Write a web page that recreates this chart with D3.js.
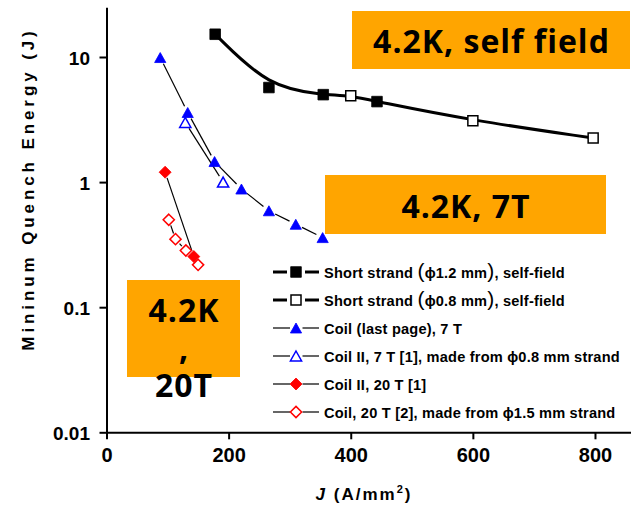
<!DOCTYPE html>
<html>
<head>
<meta charset="utf-8">
<script src="https://cdn.jsdelivr.net/npm/d3@7"></script>
<style>
  html, body { margin: 0; padding: 0; background: #fff; }
  svg { display: block; }
  text { font-family: "Liberation Sans", Arial, sans-serif; font-weight: bold; fill: #000; }
  .box-label { font-family: "Open Sans", "Noto Sans", sans-serif; font-weight: 700; }
</style>
</head>
<body>
<svg id="chart" width="631" height="505"></svg>
<script>
// Minimum quench energy against current density J, log scale

// Short strand, 1.2 mm diameter, self field
const strand12J = [178, 266, 355, 443];
const strand12E = [15.2, 5.7, 5.0, 4.4];
// Short strand, 0.8 mm diameter, self field
const strand08J = [400, 600, 797];
const strand08E = [4.9, 3.1, 2.25];
// Coil (last page), 7 T
const coil7J = [88, 133, 177, 221, 266, 310, 354];
const coil7E = [9.9, 3.6, 1.46, 0.88, 0.59, 0.46, 0.36];
// Coil II, 7 T
const coilII7J = [129, 191];
const coilII7E = [3.0, 1.0];
// Coil II, 20 T
const coilII20J = [96, 143];
const coilII20E = [1.2, 0.254];
// Coil, 20 T
const coil20J = [102, 113, 130, 150];
const coil20E = [0.5, 0.35, 0.284, 0.218];

const xMajorTicks = [0, 200, 400, 600, 800];
const xMinorTicks = [100, 300, 500, 700];
const yMajorTicks = [0.01, 0.1, 1, 10];
const yTickLabels = ["0.01", "0.1", "1", "10"];

const legendNames = [
  ["Short strand ", "(", "ϕ1.2 mm", ")", ", self-field"],
  ["Short strand ", "(", "ϕ0.8 mm", ")", ",  self-field"],
  ["Coil (last page), 7 T"],
  ["Coil II, 7 T [1], made from ϕ0.8 mm strand"],
  ["Coil II, 20 T [1]"],
  ["Coil, 20 T [2], made from ϕ1.5 mm strand"]
];
const boxLabels = [["4.2K, self field"], ["4.2K, 7T"], ["4.2K", ",", "20T"]];

const svg = d3.select("#chart");
const ORANGE = "#FFA500";

const x = d3.scaleLinear().domain([0, 870]).range([106.5, 106.5 + 870 * 0.6106]);
const y = d3.scaleLog().domain([0.01, 25]).range([432.3, 432.3 - Math.log10(2500) * 125.1]);

// minor log ticks 2..9 in each decade, plus 20
const yMinorTicks = [];
[0.01, 0.1, 1].forEach(d => { for (let k = 2; k <= 9; k++) yMinorTicks.push(+(d * k).toPrecision(3)); });
yMinorTicks.push(20);

const toPts = (J, E) => J.map((j, i) => [x(j), y(E[i])]);

// ---------- axes ----------
const yAxisG = svg.append("g").attr("transform", `translate(${x(0)},0)`);
yAxisG.call(d3.axisLeft(y).tickValues(yMinorTicks).tickSize(4).tickSizeOuter(0).tickFormat(""));
yAxisG.call(d3.axisLeft(y).tickValues(yMajorTicks).tickSize(7).tickSizeOuter(0).tickPadding(9.5)
  .tickFormat((d, i) => yTickLabels[i]));

const xAxisG = svg.append("g").attr("transform", `translate(0,${y(0.01)})`);
xAxisG.call(d3.axisBottom(x).tickValues(xMinorTicks).tickSize(4).tickSizeOuter(0).tickFormat(""));
xAxisG.call(d3.axisBottom(x).tickValues(xMajorTicks).tickSize(7).tickSizeOuter(0));

[yAxisG, xAxisG].forEach(g => {
  g.attr("font-family", null).attr("font-size", null);
  g.selectAll("path.domain").attr("stroke", "#000").attr("stroke-width", 2);
  g.selectAll(".tick line").attr("stroke", "#000").attr("stroke-width", 2);
});
yAxisG.selectAll(".tick text").style("font-size", "19px").attr("dy", "0.37em");
xAxisG.selectAll(".tick text").style("font-size", "20px").attr("y", 30).attr("dy", 0);

svg.append("text")
  .attr("transform", `translate(34,${189}) rotate(-90)`)
  .attr("text-anchor", "middle")
  .style("font-size", "17px").style("letter-spacing", "3.9px")
  .text("Mininum Quench Energy (J)");

const xt = svg.append("text")
  .attr("x", 364).attr("y", 500)
  .attr("text-anchor", "middle")
  .style("font-size", "17px").style("letter-spacing", "2px");
xt.append("tspan").style("font-style", "italic").text("J");
xt.append("tspan").text(" (A/mm");
xt.append("tspan").attr("dy", -7).style("font-size", "11px").text("2");
xt.append("tspan").attr("dy", 7).text(")");

// ---------- orange boxes ----------
const boxes = [
  { x0: 352, y0: 11, w: 278, h: 58, cx: 491.5, base: 52.7 },
  { x0: 325, y0: 175, w: 281, h: 59, cx: 466, base: 217.7 },
  { x0: 127, y0: 280, w: 113, h: 97, cx: 184, base: 322 }
];
boxes.forEach((b, i) => {
  svg.append("rect").attr("x", b.x0).attr("y", b.y0).attr("width", b.w).attr("height", b.h)
    .attr("fill", ORANGE);
  const t = svg.append("text").attr("class", "box-label")
    .attr("x", b.cx).attr("y", b.base)
    .attr("text-anchor", "middle")
    .style("font-size", "32px").style("letter-spacing", "1px");
  boxLabels[i].forEach((line, k) => {
    t.append("tspan").attr("x", b.cx).attr("dy", k === 0 ? 0 : 37.5).text(line);
  });
});

// ---------- lines ----------
// polyline that stops short of each marker
function gappedLine(g, pts, gap, width) {
  for (let i = 0; i < pts.length - 1; i++) {
    const [x1, y1] = pts[i], [x2, y2] = pts[i + 1];
    const dx = x2 - x1, dy = y2 - y1, L = Math.hypot(dx, dy);
    if (L <= 2 * gap) continue;
    const ux = dx / L, uy = dy / L;
    g.append("line")
      .attr("x1", x1 + ux * gap).attr("y1", y1 + uy * gap)
      .attr("x2", x2 - ux * gap).attr("y2", y2 - uy * gap)
      .attr("stroke", "#000").attr("stroke-width", width);
  }
}

const lineG = svg.append("g");
// smooth trend through both self-field strand series
const selfField = strand12J.map((j, i) => [j, strand12E[i]])
  .concat(strand08J.map((j, i) => [j, strand08E[i]]))
  .sort((a, b) => a[0] - b[0]);
lineG.append("path")
  .attr("d", d3.line().x(d => x(d[0])).y(d => y(d[1])).curve(d3.curveBasis)(selfField))
  .attr("fill", "none").attr("stroke", "#000").attr("stroke-width", 3);

gappedLine(lineG, toPts(coil7J, coil7E), 7, 1.2);
gappedLine(lineG, toPts(coilII7J, coilII7E), 7, 1.2);
gappedLine(lineG, toPts(coilII20J, coilII20E), 6, 1.2);
gappedLine(lineG, toPts(coil20J, coil20E), 6, 1.2);

// ---------- markers ----------
function marker(g, shape, filled, color, cx, cy) {
  let d;
  if (shape === "square") {
    const s = filled ? 5.3 : 5;
    d = `M${cx - s},${cy - s}h${2 * s}v${2 * s}h${-2 * s}Z`;
  } else if (shape === "triangle") {
    d = `M${cx},${cy - 5}L${cx + 5.6},${cy + 5}L${cx - 5.6},${cy + 5}Z`;
  } else {
    const r = filled ? 6 : 5.6;
    d = `M${cx},${cy - r}L${cx + r},${cy}L${cx},${cy + r}L${cx - r},${cy}Z`;
  }
  g.append("path").attr("d", d)
    .attr("fill", filled ? color : "#fff")
    .attr("stroke", color).attr("stroke-width", filled ? 0.8 : 1.5)
    .attr("stroke-linejoin", "miter");
}

const markG = svg.append("g");
const series = [
  { J: strand12J, E: strand12E, shape: "square", filled: true, color: "#000", thick: true },
  { J: strand08J, E: strand08E, shape: "square", filled: false, color: "#000", thick: true },
  { J: coil7J, E: coil7E, shape: "triangle", filled: true, color: "#0000FF" },
  { J: coilII7J, E: coilII7E, shape: "triangle", filled: false, color: "#0000FF" },
  { J: coilII20J, E: coilII20E, shape: "diamond", filled: true, color: "#FF0000" },
  { J: coil20J, E: coil20E, shape: "diamond", filled: false, color: "#FF0000" }
];
series.forEach(s => {
  s.J.forEach((j, i) => marker(markG, s.shape, s.filled, s.color, x(j), y(s.E[i])));
});

// ---------- legend ----------
const legG = svg.append("g");
series.forEach((s, i) => {
  const ry = 272 + i * 28;
  if (s.thick) {
    legG.append("line").attr("x1", 273).attr("x2", 287).attr("y1", ry).attr("y2", ry)
      .attr("stroke", "#000").attr("stroke-width", 3);
    legG.append("line").attr("x1", 305).attr("x2", 319).attr("y1", ry).attr("y2", ry)
      .attr("stroke", "#000").attr("stroke-width", 3);
  } else {
    legG.append("line").attr("x1", 273).attr("x2", 290).attr("y1", ry).attr("y2", ry)
      .attr("stroke", "#000").attr("stroke-width", 1.2);
    legG.append("line").attr("x1", 302.5).attr("x2", 319).attr("y1", ry).attr("y2", ry)
      .attr("stroke", "#000").attr("stroke-width", 1.2);
  }
  marker(legG, s.shape, s.filled, s.color, 296, ry);
  const t = legG.append("text").attr("x", 324).attr("y", ry + 5.5)
    .style("font-size", "14.6px").style("letter-spacing", "0.2px");
  legendNames[i].forEach(part => {
    const sp = t.append("tspan").text(part);
    if (part === "(" || part === ")") sp.style("font-size", "21px").style("font-weight", "normal");
  });
});
</script>
</body>
</html>
